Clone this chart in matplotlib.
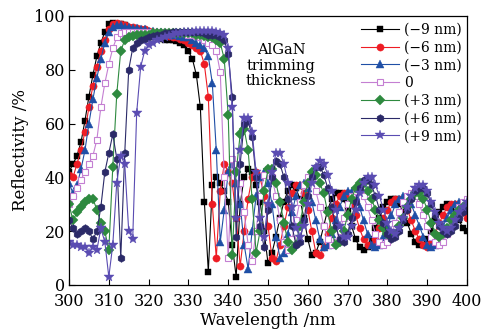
"""
plot.py
=======
Reflectivity spectra of the DBR for different AlGaN trimming thicknesses
(-9 nm ... +9 nm), one marker+line series per thickness. Writes out.png.
"""
import matplotlib
matplotlib.use("Agg")  # headless
import matplotlib.pyplot as plt

# wavelength grid, nm (1 nm sampling)
wavelength = list(range(300, 401))

refl_m9 = [
    42, 45, 48, 53, 61, 70, 78, 85, 90, 94,
    97, 97.5, 97, 97, 96.5, 95.5, 95, 94.5, 94, 93.5,
    93, 92.5, 92, 91.5, 91, 91, 91, 90.5, 90, 89,
    87, 84, 78, 66, 31, 5, 37, 40, 38, 35,
    31, 15, 3, 30, 40, 43, 42, 37, 31, 20,
    8, 12, 18, 25, 31, 35, 37, 36, 32, 25,
    17, 11, 12, 16, 22, 28, 32, 34, 34, 32,
    28, 22, 17, 14, 13, 14, 17, 21, 25, 29,
    31, 32, 32, 30, 27, 23, 19, 16, 15, 15,
    17, 20, 24, 27, 29, 30, 29, 27, 24, 21,
    20,
]
refl_m6 = [
    41, 40, 45, 50, 57, 66, 74, 81, 87, 91,
    95, 97, 97.5, 97, 96.5, 96, 96, 95.5, 95, 95,
    94.5, 94, 93.5, 93, 93, 92.5, 92, 92, 91.5, 91,
    90, 89, 88, 87, 82, 70, 30, 10, 35, 45,
    42, 38, 25, 7, 20, 32, 40, 42, 40, 33,
    22, 10, 9, 15, 22, 29, 34, 37, 37, 34,
    28, 20, 12, 11, 14, 19, 25, 30, 33, 34,
    33, 30, 26, 21, 17, 15, 15, 17, 21, 25,
    28, 31, 32, 32, 31, 28, 24, 20, 17, 15,
    14, 16, 19, 23, 26, 29, 30, 30, 29, 27,
    25,
]
refl_m3 = [
    38, 34, 37, 43, 50, 60, 69, 77, 84, 90,
    94, 96, 96.5, 96.5, 96, 96, 95.5, 95.5, 95, 95,
    94.5, 94.5, 94, 94, 93.5, 93.5, 93, 93, 92.5, 92,
    92, 91, 90, 89, 88, 85, 75, 50, 16, 28,
    42, 45, 38, 30, 15, 6, 20, 33, 40, 42,
    38, 30, 18, 10, 12, 19, 27, 33, 37, 38,
    36, 31, 24, 17, 14, 15, 19, 24, 29, 33,
    35, 35, 33, 29, 24, 19, 15, 14, 15, 18,
    22, 26, 30, 32, 33, 32, 30, 26, 22, 18,
    15, 14, 15, 18, 22, 25, 28, 30, 31, 30,
    29,
]
refl_0 = [
    30, 33, 36, 39, 42, 45, 48, 54, 66, 75,
    82, 88, 92, 93.5, 94, 94, 94, 94, 94, 94,
    94, 94, 94, 94, 94, 94, 94, 94, 93.5, 93.5,
    93, 93, 92.5, 92, 91, 90, 89, 87, 79, 40,
    10, 47, 45, 38, 27, 15, 9, 20, 33, 41,
    43, 40, 33, 24, 16, 13, 17, 24, 31, 37,
    40, 39, 35, 29, 22, 17, 15, 16, 20, 25,
    30, 33, 35, 35, 33, 29, 24, 19, 16, 15,
    16, 19, 23, 27, 31, 33, 34, 33, 30, 26,
    22, 18, 16, 15, 16, 19, 22, 26, 29, 31,
    32,
]
refl_p3 = [
    30, 24, 27, 29, 31, 32, 32, 28, 23, 20,
    13, 44, 71, 87, 91, 92, 92.5, 93, 93, 93,
    93, 93.5, 93.5, 93.5, 93.5, 93.5, 93.5, 93.5, 93.5, 93.5,
    93.5, 93.5, 93, 93, 92.5, 92, 92, 91, 90, 84,
    63, 11, 42, 56, 58, 50, 32, 12, 20, 35,
    43, 43, 38, 31, 23, 16, 13, 15, 22, 31,
    38, 42, 41, 38, 34, 27, 20, 15, 16, 20,
    26, 32, 36, 38, 38, 35, 32, 28, 24, 21,
    19, 18, 19, 22, 25, 29, 32, 34, 34, 32,
    28, 23, 19, 18, 19, 21, 24, 26, 28, 29,
    30,
]
refl_p6 = [
    24, 21, 19, 20, 21, 20, 17, 20, 29, 42,
    49, 56, 47, 10, 49, 80, 88, 90, 91, 91.5,
    92, 92.5, 93, 93, 93.5, 93.5, 94, 94, 94, 94,
    94, 94, 94, 94, 93.5, 93, 93, 93, 92, 91,
    86, 70, 18, 45, 60, 61, 55, 40, 22, 14,
    28, 40, 46, 45, 40, 32, 22, 15, 16, 24,
    33, 40, 44, 44, 41, 36, 29, 22, 17, 16,
    19, 25, 31, 36, 39, 39, 37, 33, 28, 23,
    19, 17, 18, 20, 24, 28, 32, 35, 36, 36,
    34, 30, 26, 22, 20, 19, 20, 22, 25, 27,
    28,
]
refl_p9 = [
    16, 15, 15, 14, 14, 12, 14, 13, 21, 16,
    3, 15, 38, 48, 45, 20, 17, 64, 81, 87,
    89, 90, 91, 91.5, 92, 92.5, 93, 93.5, 93.5, 94,
    94, 94, 94.5, 94.5, 94.5, 94.5, 94.5, 94, 93.5, 93,
    88, 66, 25, 50, 62, 62, 57, 42, 25, 18,
    30, 42, 49, 49, 45, 38, 29, 21, 18, 22,
    30, 38, 44, 46, 45, 41, 35, 28, 22, 18,
    18, 22, 28, 34, 38, 40, 40, 37, 33, 28,
    23, 20, 19, 21, 25, 29, 33, 36, 37, 37,
    35, 31, 27, 23, 21, 20, 21, 24, 27, 29,
    31,
]

labels = ["(\u22129 nm)", "(\u22126 nm)", "(\u22123 nm)", "0",
          "(+3 nm)", "(+6 nm)", "(+9 nm)"]

# (values, marker, colour, open marker?, marker size)
SERIES = [
    (refl_m9, "s", "#000000", False, 4.8),
    (refl_m6, "o", "#ee1c24", False, 5.2),
    (refl_m3, "^", "#1f4fa6", False, 5.4),
    (refl_0,  "s", "#c47fd2", True,  4.8),
    (refl_p3, "D", "#2e8a3f", False, 4.6),
    (refl_p6, "h", "#2b2a68", False, 5.6),
    (refl_p9, "*", "#5a4cb2", False, 7.0),
]

plt.rcParams["font.family"] = "DejaVu Serif"
plt.rcParams["mathtext.fontset"] = "dejavuserif"


def main():
    fig = plt.figure(figsize=(4.86, 3.31), dpi=100)
    ax = fig.add_axes([0.142, 0.139, 0.819, 0.813])

    for (vals, marker, color, hollow, ms), label in zip(SERIES, labels):
        ax.plot(wavelength, vals, marker=marker, markersize=ms,
                color=color, linewidth=0.8,
                markerfacecolor="white" if hollow else color,
                markeredgecolor=color, markeredgewidth=0.8 if hollow else 0.3,
                label=label)

    ax.set_xlim(300, 400)
    ax.set_ylim(0, 100)
    ax.set_xticks(range(300, 401, 10))
    ax.set_yticks(range(0, 101, 20))
    ax.tick_params(direction="in", length=4, width=0.8, labelsize=11.5,
                   top=False, right=False)
    ax.tick_params(axis="x", pad=6)
    ax.tick_params(axis="y", pad=3)
    for sp in ax.spines.values():
        sp.set_linewidth(0.9)

    ax.set_xlabel("Wavelength /nm", fontsize=12, labelpad=1)
    ax.set_ylabel("Reflectivity /%", fontsize=12, labelpad=4)

    ax.text(353.3, 81.5, "AlGaN\ntrimming\nthickness", ha="center",
            va="center", fontsize=10.5, linespacing=1.12)

    ax.legend(loc="upper right", bbox_to_anchor=(1.005, 1.0), frameon=False,
              fontsize=10, handlelength=2.7, handletextpad=0.4,
              labelspacing=0.27, borderaxespad=0.3, borderpad=0.2)

    fig.savefig("out.png", dpi=100)
    plt.close(fig)


if __name__ == "__main__":
    main()
